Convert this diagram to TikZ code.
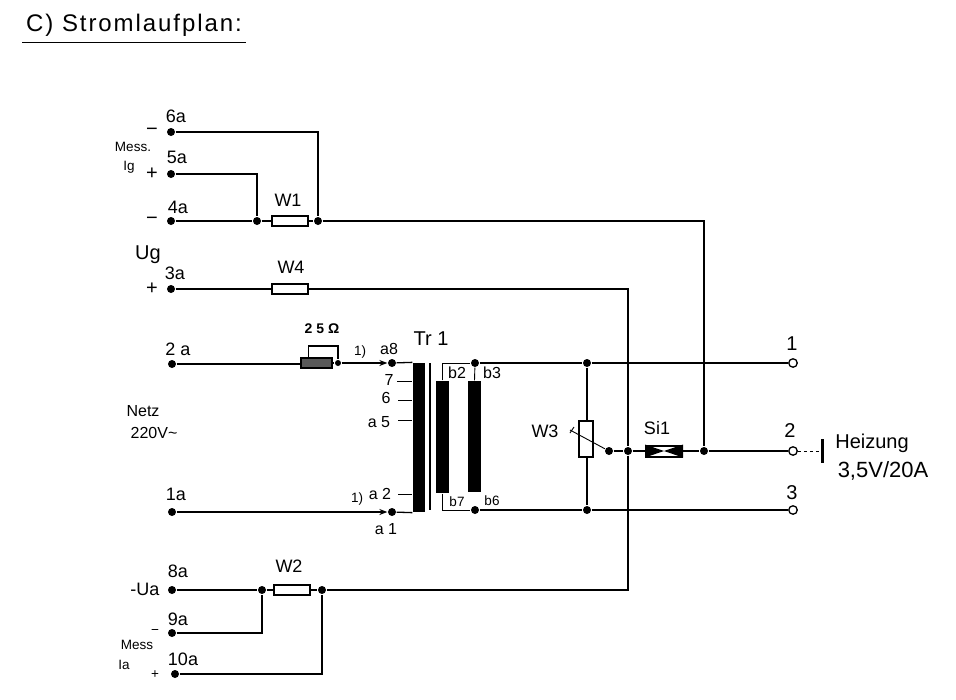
\documentclass[tikz,border=0pt]{standalone}
\usepackage{fontspec}
\setmainfont{Liberation Sans}
\usetikzlibrary{arrows.meta,calc,positioning}

\begin{document}
\begin{tikzpicture}[
	  x=1pt,
	  y=-1pt,
	  >={Stealth[length=8pt,width=6pt]},
	  every node/.style={font=\fontsize{18}{20}\selectfont, inner sep=0pt},
	  every path/.style={line width=1.3pt},
	  small/.style={font=\fontsize{13.5}{15}\selectfont},
	  medium/.style={font=\fontsize{16}{18}\selectfont},
	  large/.style={font=\fontsize{20}{22}\selectfont},
	  dot/.style={
		  circle,
		  fill=black,
		  minimum size=8pt
	  },
	  port/.style={
		  circle,
		  draw,
		  fill=white,
		  minimum size=8.5pt
	  },
	  resistor/.style={
		  draw,
		  fill=white,
		  minimum width=36pt,
		  minimum height=10pt
	  },
	  coil/.style={
		  fill=black,
		  minimum width=13pt
	  },
	  wire/.style={line width=0.9pt}
  ]
  \useasboundingbox (0,0) rectangle (956,699);

  % Title
  \node [font=\fontsize{24}{26}\selectfont\addfontfeature{LetterSpace=8}] (title) at (134,25) {C) Stromlaufplan:};
  \coordinate (titleA) at (22,42);
  \coordinate (titleB) at (246,42);
  \draw [wire] (titleA) -- (titleB);

  % Terminals left
  \node [dot] (p6a) at (171,132) {};
  \node [dot] (p5a) at (171,174) {};
  \node [dot] (p4a) at (171,221) {};
  \node [dot] (p3a) at (171,289) {};
  \node [dot] (p2a) at (172,364) {};
  \node [dot] (p1a) at (172,512) {};
  \node [dot] (p8a) at (172,590) {};
  \node [dot] (p9a) at (172,633) {};
  \node [dot] (p10a) at (175,674) {};

  % Terminals right
  \node [port] (p1) at (793,363) {};
  \node [port] (p2) at (793,451) {};
  \node [port] (p3) at (793,510) {};
  \node [
	  fill=black,
	  minimum width=3pt,
	  minimum height=24pt,
  ] (heat) at (822,451) {};

  % Junctions
  \node [dot] (j4a) at (257,221) {};
  \node [dot] (j6a) at (318,221) {};
  \node [dot] (j8a) at (262,590) {};
  \node [dot] (j10a) at (322,590) {};
  \node [dot, minimum size=6pt] (tap) at (338,363) {};
  \node [dot] (a8) at (392,363) {};
  \node [dot] (a1) at (392,512) {};
  \node [dot] (b3) at (475,363) {};
  \node [dot] (b6) at (475,510) {};
  \node [dot] (j1) at (587,363) {};
  \node [dot] (j3) at (587,510) {};
  \node [dot] (wiper) at (609,451) {};
  \node [dot] (jneg) at (628,451) {};
  \node [dot] (jheat) at (704,451) {};

  % Boxes
  \node [resistor] (W1) at (290,221) {};
  \node [resistor] (W4) at (290,289) {};
  \node [resistor] (W2) at (292,590) {};
  \node [
	  resistor,
	  minimum width=14pt,
	  minimum height=36pt,
  ] (W3) at (586,439) {};
  \node [
	  draw,
	  line width=2pt,
	  fill=black!65,
	  minimum width=31pt,
	  minimum height=10pt,
  ] (trim) at (316,363) {};
  \node [
	  draw,
	  line width=2pt,
	  fill=white,
	  minimum width=36pt,
	  minimum height=11pt,
  ] (Si1) at (664,451) {};
  \fill (Si1.north west) -- (Si1.center) -- (Si1.south west) -- cycle;
  \fill (Si1.north east) -- (Si1.center) -- (Si1.south east) -- cycle;

  % Transformer
  \node [coil, minimum width=12pt, minimum height=149pt] (primary) at (419,437.5) {};
  \node [coil, minimum height=112pt] (coilB) at (442.5,437) {};
  \node [coil, minimum height=111pt] (coilC) at (474.5,436.5) {};
  \coordinate (coreA) at (430,363);
  \coordinate (coreB) at (430,510);
  \draw (coreA) -- (coreB);

  % Connecting lines
  \draw (p6a) -| (j6a);
  \draw (p5a) -| (j4a);
  \draw (p4a) -- (j4a) -- (W1) -- (j6a);
  \draw (j6a) -| (jheat);
  \draw (p3a) -- (W4);
  \draw (W4) -| (jneg);
  \draw (jneg) |- (j10a);
  \draw (p8a) -- (j8a) -- (W2) -- (j10a);
  \draw (p9a) -| (j8a);
  \draw (p10a) -| (j10a);
  \draw (p2a) -- (p2a -| trim.west);
  \draw (trim) -- (tap);
  \draw (trim.north west) ++(9,0) |- (tap |- 0,346) -- (tap);
  \draw [->] (tap) -- (a8);
  \draw (a8) -- (primary.north west);
  \draw [->] (p1a) -- (a1);
  \draw (a1) -- (primary.south west);
  \draw [wire] (coilB.north) |- (b3);
  \draw [wire] (b3) -- (coilC.north);
  \draw [wire] (coilB.south) |- (b6);
  \draw (b3) -- (j1) -- (p1);
  \draw (b6) -- (j3) -- (p3);
  \draw (j1) -- (W3.north -| j1);
  \draw (W3.south -| j3) -- (j3);
  \draw [wire] (wiper) -- (570,430);
  \draw [wire] (570,433) -- (574,427);
  \draw (wiper) -- (jneg) -- (Si1) -- (jheat) -- (p2);
  \draw [wire, dashed] (p2) -- (heat);

  % Winding taps
  \coordinate (t7) at (397,381);
  \coordinate (t6) at (398,400);
  \coordinate (t5) at (398,420);
  \coordinate (t2) at (398,494);
  \draw [wire] (t7) -- (t7 -| primary.west);
  \draw [wire] (t6) -- (t6 -| primary.west);
  \draw [wire] (t5) -- (t5 -| primary.west);
  \draw [wire] (t2) -- (t2 -| primary.west);

  % Labels
  \node (l6a) at (176,116) {6a};
  \node (l5a) at (177,157) {5a};
  \node (l4a) at (178,207) {4a};
  \node (l3a) at (175,273) {3a};
  \node (l2a) at (178,349) {2 a};
  \node (l1a) at (176,494) {1a};
  \node (l8a) at (178,571) {8a};
  \node (l9a) at (178,619) {9a};
  \node (l10a) at (183,659) {10a};
  \node [large] (lm6) at (152,132) {−};
  \node [large] (lp5) at (152,174) {+};
  \node [large] (lm4) at (152,221) {−};
  \node [large] (lp3) at (152,289) {+};
  \node [small] (lm9) at (155,632) {−};
  \node [small] (lp10) at (155,675) {+};
  \node [small] (lmessg) at (133,147) {Mess.};
  \node [small] (lig) at (129,167) {Ig};
  \node [small] (lmessa) at (137,645) {Mess};
  \node [small] (lia) at (124,665) {Ia};
  \node [large] (lug) at (148,255) {Ug};
  \node (lua) at (145,589) {-Ua};
  \node [medium] (lnetz) at (143,411) {Netz};
  \node [medium] (lmains) at (154,433) {220V\textasciitilde};
  \node (lw1) at (288,200) {W1};
  \node (lw4) at (291,267) {W4};
  \node (lw2) at (289,566) {W2};
  \node (lw3) at (545,431) {W3};
  \node (lsi) at (657,428) {Si1};
  \node [small, font=\fontsize{14}{16}\bfseries] (lohm) at (322,329) {2 5 Ω};
  \node [small] (lnote1) at (360,352) {1)};
  \node [small] (lnote2) at (357,499) {1)};
  \node [medium] (la8) at (389,349) {a8};
  \node [medium] (l7) at (389,380) {7};
  \node [medium] (l6) at (386,398) {6};
  \node [medium] (la5) at (379,422) {a 5};
  \node [medium] (la2) at (380,494) {a 2};
  \node [medium] (la1) at (386,529) {a 1};
  \node [large] (ltr) at (431,339) {Tr 1};
  \node [medium] (lb2) at (457,373) {b2};
  \node [medium] (lb3) at (492,373) {b3};
  \node [small] (lb7) at (457,502) {b7};
  \node [small] (lb6) at (492,501) {b6};
  \node [large] (l1) at (792,344) {1};
  \node [large] (l2) at (790,431) {2};
  \node [large] (l3) at (792,493) {3};
  \node [font=\fontsize{20}{22}\selectfont] (lheat) at (872,443) {Heizung};
  \node [font=\fontsize{22}{24}\selectfont] (lvolt) at (883,471) {3,5V/20A};
\end{tikzpicture}
\end{document}
